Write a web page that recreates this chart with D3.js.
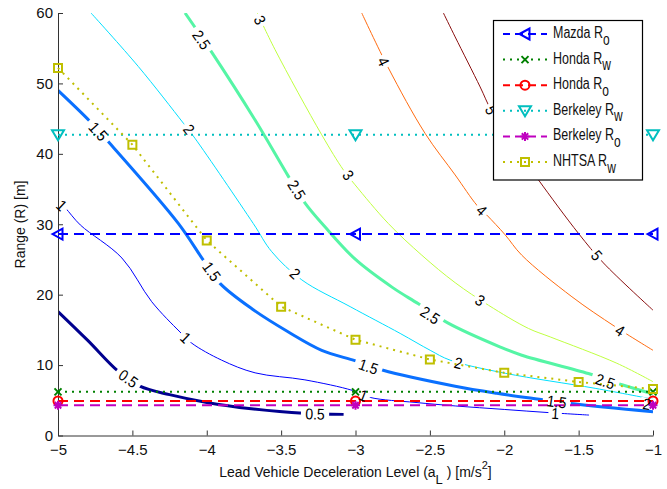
<!DOCTYPE html>
<html><head><meta charset="utf-8">
<script src="https://cdn.jsdelivr.net/npm/d3@7"></script>
<style>body{margin:0;background:#fff} text{font-family:"Liberation Sans",Arial,Helvetica,sans-serif}</style>
</head><body><svg id="c" width="667" height="489"></svg>
<script>
// ---- data ----
const xTicks=[-5,-4.5,-4,-3.5,-3,-2.5,-2,-1.5,-1];
const yTicks=[0,10,20,30,40,50,60];
const levels=["0.5","1","1.5","2","2.5","3","4","5"];
const levelColors=["#00008f","#0000ff","#0a70ff","#00dfff","#55f5a5","#bfff40","#ff6b10","#8a1010"];
const levelWidths=[3,1,3,1,3,1,1,1];
// contour lines: [a_L, R]
const c05=[[-5,17.6],[-4.8,13.5],[-4.6,9.2],[-4.45,7.0],[-4.25,5.8],[-4.0,4.7],[-3.7,3.8],[-3.35,3.15],[-3.08,3.0]];
const c10=[[-5,33.3],[-4.95,32.3],[-4.85,29.9],[-4.57,25.2],[-4.37,19.0],[-4.18,14.7],[-4.1,13.1],[-3.9,10.7],[-3.675,8.9],[-3.34,7.9],[-3.02,6.4],[-2.9,5.4],[-2.6,4.7],[-2.33,4.2],[-2.0,3.7],[-1.7,3.25],[-1.43,2.9]];
const c15=[[-5,49.0],[-4.785,44.6],[-4.673,42.0],[-4.19,30.1],[-4.023,24.9],[-3.911,21.6],[-3.69,17.9],[-3.451,14.7],[-3.227,12.1],[-3.0,10.6],[-2.82,9.3],[-2.33,7.0],[-2.05,6.0],[-1.725,5.04],[-1.568,4.57],[-1,3.38]];
const c20=[[-4.778,60],[-4.46,52.4],[-4.157,44.35],[-4.079,42.2],[-3.687,30.1],[-3.563,26.1],[-3.361,22.1],[-3.036,18.3],[-2.7,14.5],[-2.498,12.1],[-2.364,10.7],[-1.994,8.84],[-1.389,6.7],[-1,5.15]];
const c25=[[-4.146,60],[-3.978,54.8],[-3.675,44.8],[-3.451,36.8],[-3.339,33.0],[-3.204,29.6],[-3.0,25.0],[-2.75,21.0],[-2.577,18.7],[-2.38,16.0],[-2.03,12.6],[-1.882,11.4],[-1.434,8.8],[-1.209,7.2],[-1,5.9]];
const c30=[[-3.66,60],[-3.541,54.8],[-3.227,42.7],[-3.081,37.7],[-3.003,35.6],[-2.779,30.1],[-2.554,25.6],[-2.33,21.7],[-2.106,18.5],[-1.837,15.2],[-1.691,14.0],[-1.243,10.26],[-1,7.64]];
const c40=[[-2.958,60],[-2.779,52.2],[-2.532,42.9],[-2.33,37.0],[-2.184,32.7],[-2.117,31.3],[-1.994,28.5],[-1.882,25.6],[-1.545,19.7],[-1.254,15.45],[-1,12.1]];
const c50=[[-2.409,60],[-2.33,56.6],[-2.162,49.5],[-2.088,46.2],[-1.93,41.1],[-1.77,36.3],[-1.501,28.7],[-1.333,24.5],[-1,17.8]];
const contours=[c05,c10,c15,c20,c25,c30,c40,c50];
// contour label positions: [a_L, R]
const lab05=[[-4.527,8.1],[-3.272,3.08]];
const lab10=[[-4.975,32.7],[-4.141,13.9],[-2.947,5.7],[-1.658,3.15]];
const lab15=[[-4.729,43.2],[-3.966,23.3],[-2.913,9.8],[-1.647,4.8]];
const lab20=[[-4.119,43.5],[-3.406,23.0],[-2.308,10.3],[-1.041,4.5]];
const lab25=[[-4.034,56.2],[-3.395,34.9],[-2.498,17.1],[-1.321,7.7]];
const lab30=[[-3.642,59.0],[-3.048,37.0],[-2.162,19.2]];
const lab40=[[-2.812,53.1],[-2.151,32.0],[-1.221,14.9]];
const lab50=[[-2.088,46.2],[-1.377,25.6]];
const contourLabels=[lab05,lab10,lab15,lab20,lab25,lab30,lab40,lab50];
// system ranges
const markerX=[-5,-3,-1];
const mazdaRo=[28.6,28.6,28.6];
const hondaRw=[6.2,6.2,6.2];
const hondaRo=[4.9,4.9,4.9];
const berkeleyRw=[42.7,42.7,42.7];
const berkeleyRo=[4.3,4.3,4.3];
const nhtsaX=[-5,-4.5,-4,-3.5,-3,-2.5,-2,-1.5,-1];
const nhtsaRw=[52.2,41.3,27.7,18.3,13.6,10.8,8.9,7.6,6.6];
const seriesNames=["Mazda R","Honda R","Honda R","Berkeley R","Berkeley R","NHTSA R"];
const seriesSubs=["o","w","o","w","o","w"];

// ---- drawing ----
const svg=d3.select("#c");
const x=d3.scaleLinear().domain([-5,-1]).range([58,653]);
const y=d3.scaleLinear().domain([0,60]).range([435.5,13]);
const defs=svg.append("defs");
defs.append("clipPath").attr("id","plot").append("rect").attr("x",58).attr("y",13).attr("width",595).attr("height",422.5);

const line=d3.line().x(d=>x(d[0])).y(d=>y(d[1])).curve(d3.curveCatmullRom.alpha(0.5));
function angleAt(pts,px,py){
  const P=pts.map(d=>[x(d[0]),y(d[1])]);
  let best=1e9,ang=0;
  for(let i=0;i<P.length-1;i++){
    const [x1,y1]=P[i],[x2,y2]=P[i+1];
    const dx=x2-x1,dy=y2-y1,L=dx*dx+dy*dy;
    let t=((px-x1)*dx+(py-y1)*dy)/L; t=Math.max(0,Math.min(1,t));
    const ex=x1+t*dx-px,ey=y1+t*dy-py,dd=ex*ex+ey*ey;
    if(dd<best){best=dd;ang=Math.atan2(dy,dx)*180/Math.PI;}
  }
  if(ang>90)ang-=180; if(ang<-90)ang+=180;
  return ang;
}
const labelInfo=[];
contours.forEach((pts,i)=>{
  const m=defs.append("mask").attr("id","mask"+i).attr("maskUnits","userSpaceOnUse")
    .attr("x",0).attr("y",0).attr("width",667).attr("height",489);
  m.append("rect").attr("width",667).attr("height",489).attr("fill","#fff");
  contourLabels[i].forEach(l=>{
    const px=x(l[0]),py=y(l[1]),ang=angleAt(pts,px,py);
    const w=levels[i].length*7.4+6;
    m.append("rect").attr("x",-w/2).attr("y",-6).attr("width",w).attr("height",12)
      .attr("transform",`translate(${px},${py}) rotate(${ang})`).attr("fill","#000");
    labelInfo.push({t:levels[i],px,py,ang});
  });
});
const cg=svg.append("g").attr("clip-path","url(#plot)");
contours.forEach((pts,i)=>{
  cg.append("path").attr("d",line(pts)).attr("fill","none")
    .attr("stroke",levelColors[i]).attr("stroke-width",levelWidths[i])
    .attr("mask",`url(#mask${i})`);
});

// axes
const fmt=d=>(d<0?"\u2212":"")+Math.abs(d);
const ax=svg.append("g").attr("transform","translate(0,435.5)")
  .call(d3.axisBottom(x).tickValues(xTicks).tickFormat(fmt).tickSize(-5).tickSizeOuter(0).tickPadding(9));
const ay=svg.append("g").attr("transform","translate(58,0)")
  .call(d3.axisLeft(y).tickValues(yTicks).tickFormat(d3.format("d")).tickSize(-5).tickSizeOuter(0).tickPadding(5));
[ax,ay].forEach(g=>{
  g.selectAll("text").attr("font-size",15).attr("fill","#111").attr("font-family",'"Liberation Sans",Arial,sans-serif');
  g.selectAll("line,path").attr("stroke","#333");
});

// series lines
const mk={
  tri_left:"M-5.5,0L4.5,-5.5L4.5,5.5Z",
  tri_down:"M-6,-4.5L6,-4.5L0,5.5Z",
  square:"M-4,-4L4,-4L4,4L-4,4Z",
  circle:d3.symbol(d3.symbolCircle,64)(),
  cross:"M-3.5,-3.5L3.5,3.5M-3.5,3.5L3.5,-3.5",
  star:"M-4.5,0L4.5,0M0,-4.5L0,4.5M-3.2,-3.2L3.2,3.2M-3.2,3.2L3.2,-3.2"
};
const series=[
  {xs:markerX,ys:mazdaRo,color:"#0000ff",dash:"10,6",m:"tri_left"},
  {xs:markerX,ys:hondaRw,color:"#008000",dash:"2,5",m:"cross"},
  {xs:markerX,ys:hondaRo,color:"#ff0000",dash:"10,6",m:"circle"},
  {xs:markerX,ys:berkeleyRw,color:"#00bfbf",dash:"2,5",m:"tri_down"},
  {xs:markerX,ys:berkeleyRo,color:"#bf00bf",dash:"10,6",m:"star"},
  {xs:nhtsaX,ys:nhtsaRw,color:"#bfbf00",dash:"2,5",m:"square"}
];
const sl=d3.line().x(d=>x(d[0])).y(d=>y(d[1]));
series.forEach(s=>{
  const pts=s.xs.map((v,i)=>[v,s.ys[i]]);
  svg.append("path").attr("d",sl(pts)).attr("fill","none").attr("stroke",s.color)
    .attr("stroke-width",2).attr("stroke-dasharray",s.dash);
  svg.append("g").selectAll("path").data(pts).join("path")
    .attr("d",mk[s.m]).attr("transform",d=>`translate(${x(d[0])},${y(d[1])})`)
    .attr("fill","none").attr("stroke",s.color).attr("stroke-width",2);
});

// contour label texts
svg.append("g").selectAll("text").data(labelInfo).join("text")
  .attr("transform",d=>`translate(${d.px},${d.py}) rotate(${d.ang}) scale(1,1.12)`)
  .attr("text-anchor","middle").attr("dy","0.36em").attr("font-size",14).attr("fill","#000")
  .text(d=>d.t);

// axis labels
const xl=svg.append("text").attr("x",355.5).attr("y",477).attr("text-anchor","middle").attr("font-size",14).attr("fill","#111");
xl.append("tspan").text("Lead Vehicle Deceleration Level (a");
xl.append("tspan").attr("dy",7).attr("font-size",13).text("L");
xl.append("tspan").attr("dy",-7).text(" ) [m/s");
xl.append("tspan").attr("dy",-8).attr("font-size",11).text("2");
xl.append("tspan").attr("dy",8).text("]");
svg.append("text").attr("transform","translate(25,224.5) rotate(-90)").attr("text-anchor","middle")
  .attr("font-size",14).attr("fill","#111").text("Range (R) [m]");

// legend
const lg=svg.append("g");
lg.append("rect").attr("x",493.5).attr("y",20.5).attr("width",149).attr("height",159.5)
  .attr("fill","#fff").attr("stroke","#000").attr("stroke-width",1.2);
series.forEach((s,i)=>{
  const ry=34+i*25.6;
  lg.append("line").attr("x1",503).attr("x2",547).attr("y1",ry).attr("y2",ry)
    .attr("stroke",s.color).attr("stroke-width",2).attr("stroke-dasharray",s.dash==="2,5"?"2,5":"8,5")
    .attr("stroke-dashoffset",s.dash==="2,5"?0:1);
  lg.append("path").attr("d",mk[s.m]).attr("transform",`translate(525,${ry})`)
    .attr("fill","none").attr("stroke",s.color).attr("stroke-width",2);
  const t=lg.append("text").attr("transform",`translate(553,${ry+4}) scale(1,1.3)`)
    .attr("font-size",12.5).attr("fill","#111");
  t.append("tspan").text(seriesNames[i]);
  t.append("tspan").attr("dy",5).attr("font-size",12).text(seriesSubs[i]);
});
</script></body></html>
